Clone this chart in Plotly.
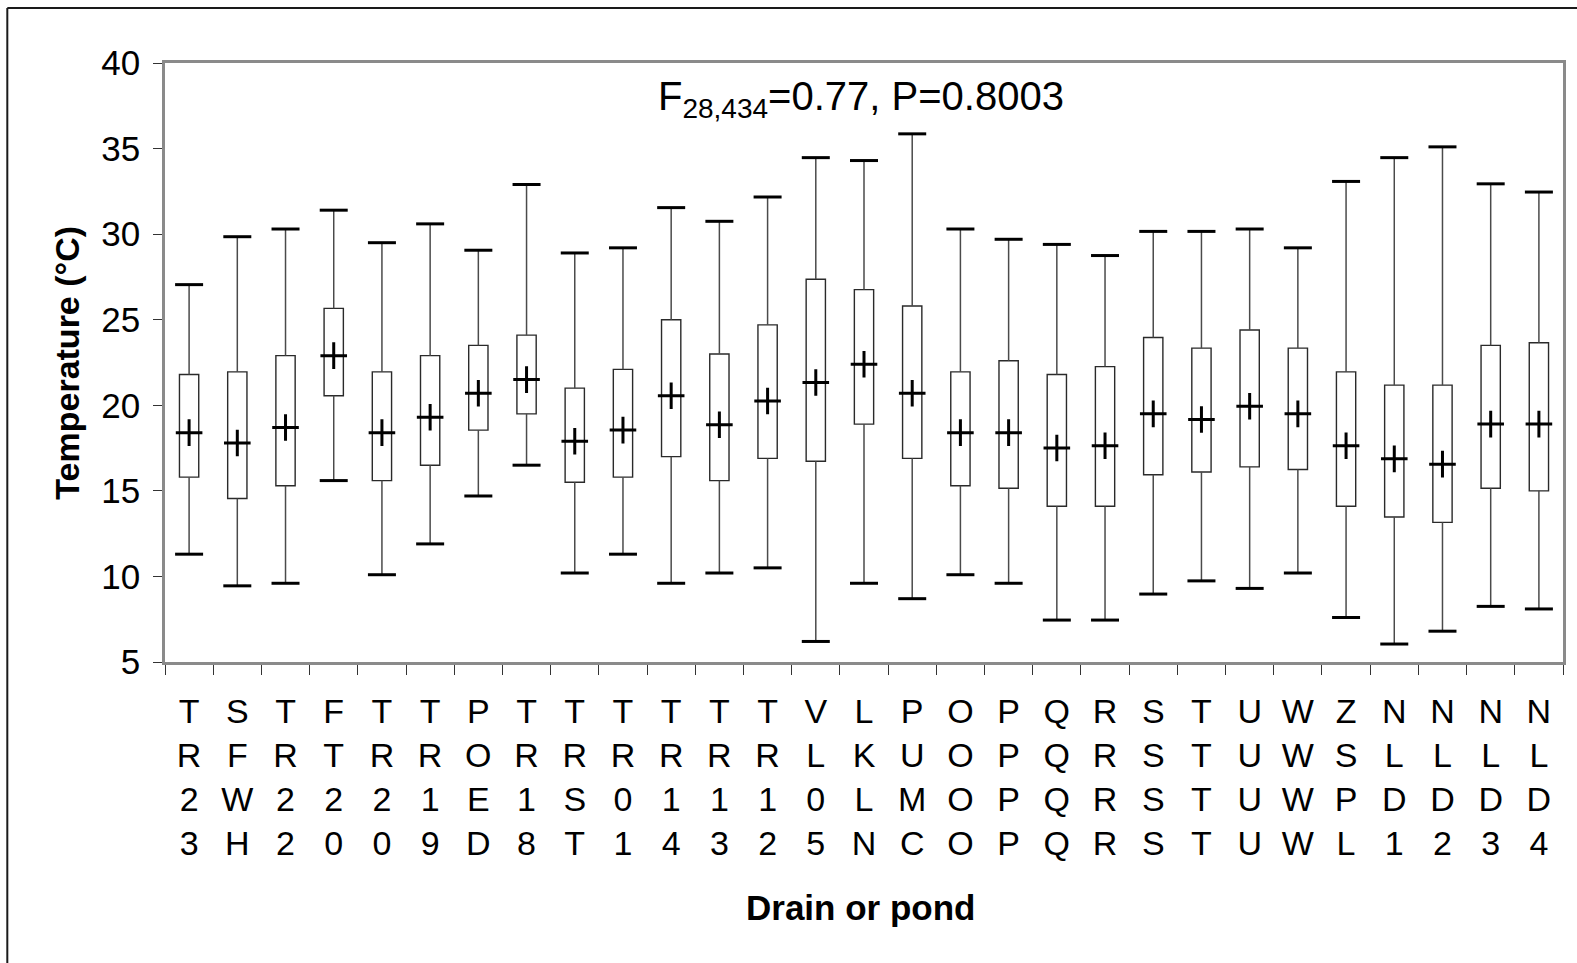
import plotly.graph_objects as go

# Drain / pond codes, drawn as stacked letters under each box
categories = ["TR23", "SFWH", "TR22", "FT20", "TR20", "TR19", "POED", "TR18",
              "TRST", "TR01", "TR14", "TR13", "TR12", "VL05", "LKLN", "PUMC",
              "OOOO", "PPPP", "QQQQ", "RRRR", "SSSS", "TTTT", "UUUU", "WWWW",
              "ZSPL", "NLD1", "NLD2", "NLD3", "NLD4"]

# Water temperature summaries (°C)
t_min = [11.3, 9.45, 9.6, 15.6, 10.1, 11.9, 14.7, 16.5, 10.2, 11.3, 9.6, 10.2,
         10.5, 6.2, 9.6, 8.7, 10.1, 9.6, 7.45, 7.45, 8.97, 9.74, 9.3, 10.2,
         7.6, 6.05, 6.8, 8.25, 8.1]
t_q1 = [15.8, 14.55, 15.3, 20.56, 15.6, 16.5, 18.55, 19.5, 15.5, 15.8, 17.0,
        15.6, 16.9, 16.73, 18.9, 16.9, 15.3, 15.15, 14.1, 14.1, 15.94, 16.1,
        16.4, 16.25, 14.1, 13.47, 13.16, 15.15, 15.0]
t_mean = [18.4, 17.8, 18.7, 22.9, 18.4, 19.3, 20.7, 21.5, 17.9, 18.55, 20.56,
          18.86, 20.25, 21.33, 22.4, 20.7, 18.4, 18.4, 17.5, 17.64, 19.5,
          19.17, 19.94, 19.5, 17.64, 16.87, 16.56, 18.9, 18.9]
t_q3 = [21.8, 21.95, 22.9, 25.66, 21.95, 22.9, 23.5, 24.1, 21.0, 22.1, 25.0,
        23.0, 24.7, 27.36, 26.76, 25.8, 21.95, 22.6, 21.8, 22.26, 23.96,
        23.34, 24.4, 23.34, 21.95, 21.18, 21.18, 23.5, 23.65]
t_max = [27.05, 29.85, 30.3, 31.4, 29.5, 30.6, 29.06, 32.9, 28.9, 29.2, 31.55,
         30.75, 32.17, 34.47, 34.3, 35.86, 30.3, 29.7, 29.4, 28.75, 30.16,
         30.16, 30.3, 29.2, 33.08, 34.47, 35.1, 32.94, 32.46]

y_ticks = [5, 10, 15, 20, 25, 30, 35, 40]
stat_text = "F<sub>28,434</sub>=0.77, P=0.8003"

FONT = "Arial, Liberation Sans, sans-serif"

# whisker segments: min->Q1 and Q3->max, gaps separated by None
wx, wy = [], []
for c, lo, a, b, hi in zip(categories, t_min, t_q1, t_q3, t_max):
    wx += [c, c, None, c, c, None]
    wy += [lo, a, None, b, hi, None]

fig = go.Figure()

fig.add_trace(go.Bar(
    x=categories,
    y=[b - a for a, b in zip(t_q1, t_q3)],
    base=t_q1,
    width=0.4,
    marker=dict(color="white", line=dict(color="#2a2a2a", width=1.4)),
    hoverinfo="skip",
))

fig.add_trace(go.Scatter(
    x=wx, y=wy, mode="lines",
    line=dict(color="#4a4a4a", width=1.5),
    hoverinfo="skip",
))

# whisker caps at min and max
fig.add_trace(go.Scatter(
    x=categories + categories,
    y=t_min + t_max,
    mode="markers",
    marker=dict(symbol="line-ew", size=20,
                line=dict(color="black", width=3)),
    hoverinfo="skip",
))

# mean markers
fig.add_trace(go.Scatter(
    x=categories, y=t_mean, mode="markers",
    marker=dict(symbol="cross-thin", size=19,
                line=dict(color="black", width=3)),
))

fig.update_layout(
    width=1577, height=963,
    margin=dict(l=165, r=11, t=63, b=301),
    paper_bgcolor="white", plot_bgcolor="white",
    showlegend=False,
    font=dict(family=FONT, color="black"),
    xaxis=dict(
        type="category", range=[-0.5, len(categories) - 0.5],
        tickmode="array", tickvals=categories,
        ticktext=["<br>".join(c) for c in categories],
        tickfont=dict(size=34, family=FONT, color="black"),
        ticks="outside", tickson="boundaries", ticklen=10,
        tickcolor="#333333", tickwidth=1, ticklabelstandoff=17,
        showline=True, linecolor="#8a8a8a", linewidth=3, mirror=True,
        showgrid=False, zeroline=False,
    ),
    yaxis=dict(
        range=[5, 40], tickmode="array", tickvals=y_ticks,
        tickfont=dict(size=35, family=FONT, color="black"),
        ticks="outside", ticklen=9, tickcolor="#333333", tickwidth=1,
        ticklabelstandoff=6,
        showline=True, linecolor="#8a8a8a", linewidth=2.5, mirror=True,
        showgrid=False, zeroline=False,
    ),
    annotations=[
        dict(text=stat_text, xref="paper", yref="paper", x=0.498, y=0.94,
             xanchor="center", yanchor="middle", showarrow=False,
             font=dict(size=40, family=FONT, color="black")),
        dict(text="<b>Temperature (°C)</b>", xref="paper", yref="paper",
             x=-0.0707, y=0.5, xanchor="center", yanchor="middle",
             textangle=-90, showarrow=False,
             font=dict(size=34, family=FONT, color="black")),
        dict(text="<b>Drain or pond</b>", xref="paper", yref="paper",
             x=0.4975, y=0, yshift=-245, xanchor="center", yanchor="middle",
             showarrow=False,
             font=dict(size=35, family=FONT, color="black")),
    ],
    shapes=[
        dict(type="line", xref="paper", yref="paper",
             x0=-0.1128, x1=-0.1128, y0=1.0918, y1=-0.52,
             line=dict(color="#1a1a1a", width=2)),
        dict(type="line", xref="paper", yref="paper",
             x0=-0.1128, x1=1.02, y0=1.0918, y1=1.0918,
             line=dict(color="#1a1a1a", width=2)),
    ],
)

fig.write_html("out.html")
